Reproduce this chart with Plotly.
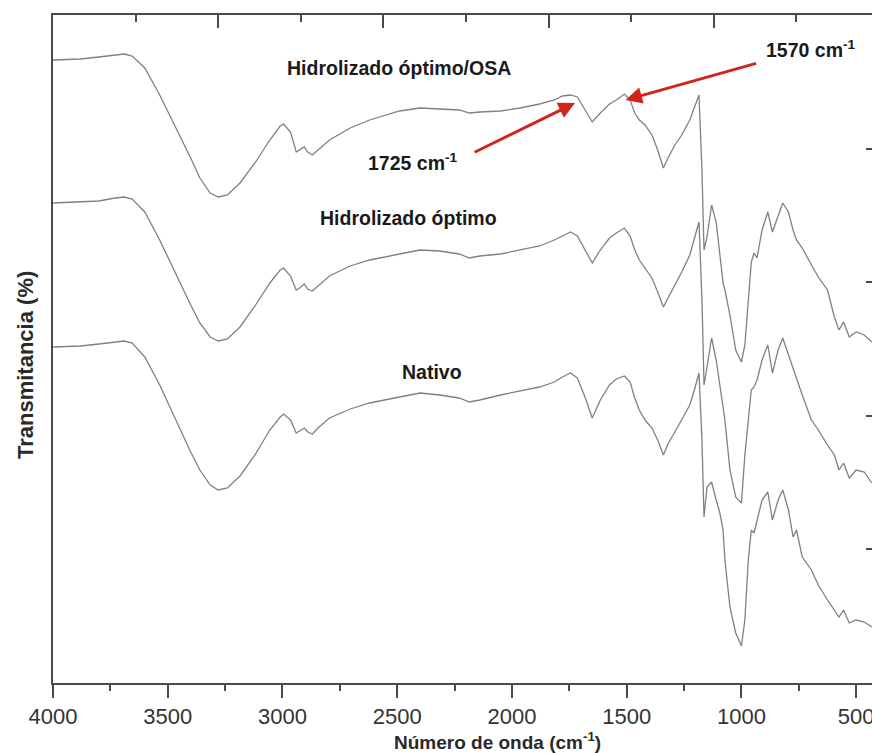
import plotly.graph_objects as go

# FTIR spectra: wavenumber grid (cm^-1) shared by the three samples
wavenumber = [
    4000, 3880, 3800, 3730, 3690, 3655, 3600, 3535, 3470, 3400,
    3360, 3315, 3280, 3240, 3185, 3120, 3055, 3010, 2995, 2965,
    2940, 2925, 2905, 2890, 2870, 2845, 2795, 2705, 2620, 2490,
    2400, 2315, 2230, 2185, 2140, 2050, 1965, 1880, 1815, 1780,
    1745, 1715, 1680, 1650, 1615, 1575, 1545, 1510, 1485, 1465,
    1445, 1420, 1390, 1365, 1340, 1320, 1290, 1260, 1225, 1205,
    1185, 1172, 1163, 1150, 1130, 1110, 1095, 1080, 1072, 1050,
    1025, 1000, 985, 970, 957, 945, 932, 910, 885, 865,
    840, 820, 795, 775, 760, 735, 695, 665, 625, 595,
    575, 555, 530, 500, 465, 432,
]

# Transmittance (stacked, arbitrary offset units)
t_osa = [
    62.3, 62.4, 62.6, 62.8, 62.9, 62.7, 61.5, 58.8, 55.8, 52.5,
    50.5, 49.0, 48.6, 48.8, 50.0, 52.0, 54.3, 55.7, 55.9, 55.1,
    53.1, 53.3, 53.6, 53.1, 52.8, 53.3, 54.3, 55.5, 56.3, 57.2,
    57.5, 57.4, 57.3, 57.0, 57.1, 57.2, 57.5, 57.9, 58.3, 58.7,
    58.8, 58.6, 57.3, 56.1, 57.0, 57.9, 58.3, 58.9, 58.3, 57.0,
    56.3, 55.8, 54.8, 53.3, 51.5, 52.5, 53.8, 54.8, 56.3, 57.5,
    58.8, 51.3, 43.3, 44.6, 47.8, 46.1, 43.3, 40.0, 39.3, 36.8,
    33.3, 32.1, 33.8, 38.3, 42.1, 43.0, 42.5, 45.3, 47.1, 45.1,
    46.8, 48.0, 47.1, 45.3, 44.3, 43.5, 41.8, 40.6, 39.3, 36.6,
    35.3, 36.1, 34.6, 35.1, 34.8, 34.1,
]

t_hidrolizado = [
    48.0, 48.1, 48.2, 48.5, 48.6, 48.4, 47.1, 44.3, 41.1, 37.8,
    36.0, 34.6, 34.2, 34.4, 35.6, 37.7, 40.0, 41.3, 41.5, 40.7,
    39.3, 39.5, 39.9, 39.4, 39.2, 39.7, 40.7, 41.7, 42.3, 42.9,
    43.3, 43.2, 42.9, 42.5, 42.7, 42.9, 43.3, 43.7, 44.3, 44.7,
    45.1, 44.7, 43.3, 42.0, 43.3, 44.5, 45.0, 45.5, 44.7, 43.3,
    42.3, 41.5, 40.5, 39.1, 37.6, 38.5, 39.8, 41.1, 42.8, 44.5,
    46.1, 38.3, 29.8, 31.6, 34.5, 32.3, 30.0, 28.0, 26.3, 21.3,
    18.6, 18.0, 22.8, 26.3, 29.3, 29.6, 30.3, 32.3, 33.8, 31.0,
    33.3, 34.5, 32.8, 31.5, 30.6, 28.8, 26.3, 25.3, 23.8, 22.8,
    21.3, 22.0, 20.5, 21.3, 21.1, 20.0,
]

t_nativo = [
    33.6, 33.7, 33.9, 34.1, 34.2, 34.0, 32.6, 29.8, 26.5, 23.1,
    21.3, 19.8, 19.3, 19.5, 20.7, 22.8, 25.3, 26.6, 26.9, 26.3,
    25.0, 25.2, 25.5, 25.1, 24.9, 25.5, 26.5, 27.4, 28.0, 28.6,
    29.0, 28.8, 28.5, 28.1, 28.3, 28.8, 29.2, 29.6, 30.1, 30.6,
    31.0, 30.5, 28.5, 26.5, 28.3, 29.8, 30.4, 30.7, 30.1, 28.5,
    27.3, 26.3, 25.5, 24.3, 22.8, 23.9, 25.1, 26.3, 27.8, 29.3,
    31.0, 24.3, 16.6, 19.6, 20.1, 18.3, 17.1, 15.3, 12.3, 7.6,
    5.0, 3.7, 6.3, 12.3, 15.3, 15.0, 16.3, 18.3, 19.1, 16.3,
    18.3, 19.3, 17.3, 14.6, 15.3, 12.6, 11.3, 9.8, 8.3, 7.3,
    6.6, 7.3, 6.0, 6.3, 6.1, 5.6,
]

x_range = [4000, 431]
y_range = [0, 66.8]
axis_color = "#4a4a4a"
line_color = "#808080"
red = "#d4231c"
family = "Liberation Sans, Arial, sans-serif"

fig = go.Figure()
for t in (t_osa, t_hidrolizado, t_nativo):
    fig.add_trace(go.Scatter(x=wavenumber, y=t, mode="lines",
                             line=dict(color=line_color, width=1.3),
                             hoverinfo="skip"))

# empty traces so the top and right frame axes are drawn
fig.add_trace(go.Scatter(x=[], y=[], xaxis="x2", yaxis="y", showlegend=False))
fig.add_trace(go.Scatter(x=[], y=[], xaxis="x", yaxis="y2", showlegend=False))

tick_font = dict(family=family, size=22, color="#333333")

fig.update_layout(
    width=872, height=753,
    margin=dict(l=53, r=0, t=15, b=70),
    plot_bgcolor="white", paper_bgcolor="white",
    showlegend=False,
    font=dict(family=family, color="#222222"),
    xaxis=dict(range=x_range, showline=True, linewidth=2, linecolor=axis_color,
               ticks="outside", ticklen=13, tickwidth=2, tickcolor=axis_color,
               tick0=500, dtick=500, tickfont=tick_font,
               ticklabeloverflow="allow",
               minor=dict(ticks="outside", ticklen=6, tickwidth=2,
                          tickcolor=axis_color, dtick=250, tick0=250),
               showgrid=False, zeroline=False, automargin=False),
    xaxis2=dict(overlaying="x", side="top", anchor="y", range=[0, 819 / 82.6],
                showline=True, linewidth=2, linecolor=axis_color,
                ticks="inside", ticklen=13, tickwidth=2, tickcolor=axis_color,
                tick0=0, dtick=2, showticklabels=False,
                minor=dict(ticks="inside", ticklen=7, tickwidth=2,
                           tickcolor=axis_color, dtick=1),
                showgrid=False, zeroline=False),
    yaxis=dict(range=y_range, showline=True, linewidth=2, linecolor=axis_color,
               ticks="", showticklabels=False, showgrid=False, zeroline=False),
    yaxis2=dict(overlaying="y", side="right", anchor="x", range=y_range,
                showline=False, ticks="inside", ticklen=6, tickwidth=2,
                tickcolor=axis_color, tick0=0, dtick=y_range[1] / 5,
                showticklabels=False, showgrid=False, zeroline=False),
)

label_font = dict(family=family, size=19.5, color="#1a1a1a")
annotations = [
    dict(x=2492, y=61.5, text="<b>Hidrolizado óptimo/OSA</b>"),
    dict(x=2453, y=46.5, text="<b>Hidrolizado óptimo</b>"),
    dict(x=2349, y=31.1, text="<b>Nativo</b>"),
    dict(x=2431, y=52.1, text="<b>1725 cm<sup>-1</sup></b>"),
    dict(x=697, y=63.4, text="<b>1570 cm<sup>-1</sup></b>"),
]
for a in annotations:
    fig.add_annotation(xref="x", yref="y", showarrow=False, font=label_font, **a)

# red arrows marking the bands
fig.add_annotation(x=1725, y=58.0, xref="x", yref="y", ax=-102, ay=50, text="",
                   showarrow=True, arrowhead=2, arrowsize=1.1, arrowwidth=3,
                   arrowcolor=red)
fig.add_annotation(x=1505, y=58.3, xref="x", yref="y", ax=132, ay=-37, text="",
                   showarrow=True, arrowhead=2, arrowsize=1.1, arrowwidth=3,
                   arrowcolor=red)

# axis titles
fig.add_annotation(xref="paper", yref="paper", x=(498 - 53) / 819, y=-(741 - 683) / 668,
                   text="<b>Número de onda (cm<sup>-1</sup>)</b>", showarrow=False,
                   font=dict(family=family, size=19, color="#2a2a2a"),
                   xanchor="center", yanchor="middle")
fig.add_annotation(xref="paper", yref="paper", x=(25 - 53) / 819, y=(683 - 365) / 668,
                   text="<b>Transmitancia (%)</b>", showarrow=False, textangle=-90,
                   font=dict(family=family, size=22, color="#2a2a2a"),
                   xanchor="center", yanchor="middle")

fig.write_html("out.html")
